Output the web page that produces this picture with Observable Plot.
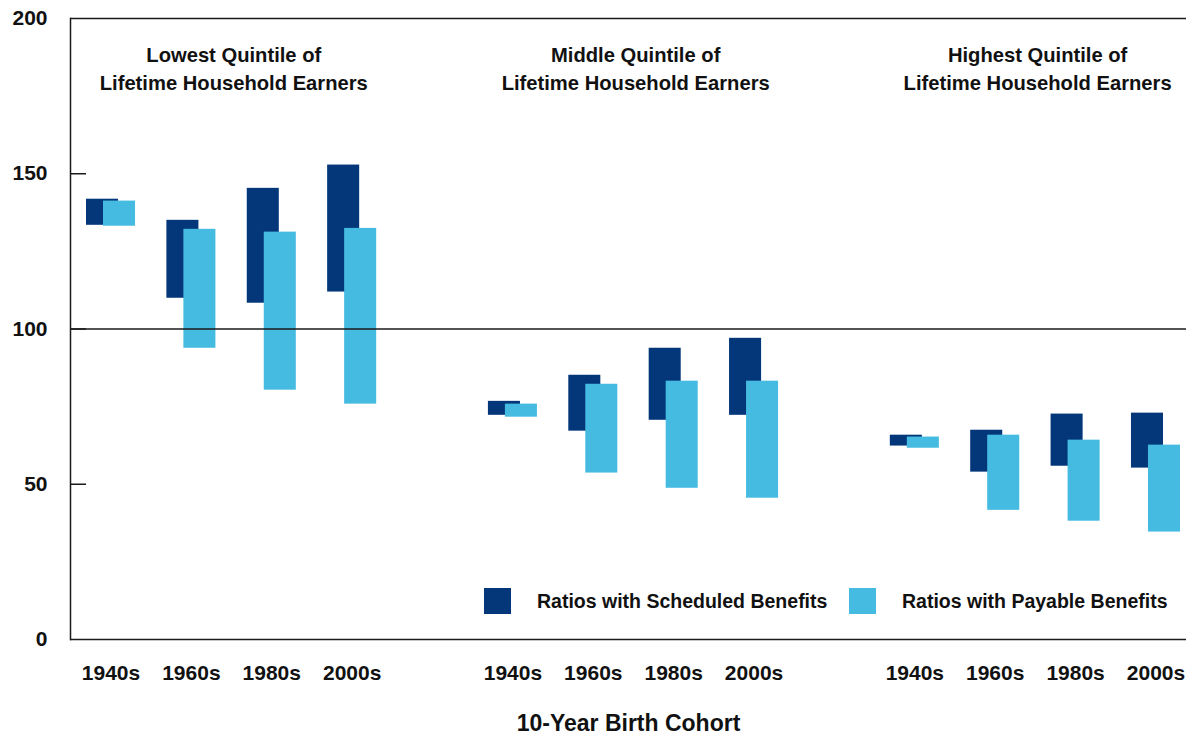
<!DOCTYPE html>
<html>
<head>
<meta charset="utf-8">
<script src="https://cdn.jsdelivr.net/npm/d3@7"></script>
<script src="https://cdn.jsdelivr.net/npm/@observablehq/plot@0.6"></script>
<style>
  html, body { margin: 0; padding: 0; background: #fff; }
  #wrap { position: relative; width: 1186px; height: 737px; font-family: "Liberation Sans", Arial, sans-serif; font-weight: bold; color: #111; }
  .leg { position: absolute; display: flex; align-items: center; font-size: 19.5px; white-space: nowrap; }
  .sw { width: 27px; height: 26px; display: inline-block; }
</style>
</head>
<body>
<div id="wrap"></div>
<script>
// ---- data ----
const quintiles = ["Lowest", "Middle", "Highest"];
const quintileTitles = ["Lowest Quintile of\nLifetime Household Earners", "Middle Quintile of\nLifetime Household Earners", "Highest Quintile of\nLifetime Household Earners"];
const cohorts = ["1940s", "1960s", "1980s", "2000s"];
// [high, low] per cohort
const scheduledLowest  = [[141.8, 133.4], [135.0, 109.9], [145.3, 108.3], [152.8, 111.9]];
const payableLowest    = [[141.2, 133.1], [132.1, 93.8], [131.2, 80.3], [132.4, 75.8]];
const scheduledMiddle  = [[76.7, 72.2], [85.1, 67.1], [93.8, 70.6], [97.0, 72.2]];
const payableMiddle    = [[75.8, 71.6], [82.2, 53.6], [83.2, 48.7], [83.2, 45.5]];
const scheduledHighest = [[65.8, 62.3], [67.4, 53.9], [72.6, 55.8], [72.9, 55.2]];
const payableHighest   = [[65.2, 61.6], [65.8, 41.6], [64.2, 38.1], [62.6, 34.6]];
const yTicks = [0, 50, 100, 150, 200];
const seriesNames = ["Ratios with Scheduled Benefits", "Ratios with Payable Benefits"];
const colors = ["#03377a", "#45bbe1"];

// ---- build ----
const scheduled = [scheduledLowest, scheduledMiddle, scheduledHighest];
const payable = [payableLowest, payableMiddle, payableHighest];
const keys = [];
quintiles.forEach((q, qi) => {
  cohorts.forEach(c => keys.push(q + "|" + c));
  if (qi < quintiles.length - 1) keys.push("gap" + qi);
});
const realKeys = keys.filter(k => k.includes("|"));
const rows = (arr, series) => quintiles.flatMap((q, qi) => cohorts.map((c, ci) => ({
  key: q + "|" + c, high: arr[qi][ci][0], low: arr[qi][ci][1], series
})));
const schedRows = rows(scheduled, seriesNames[0]);
const payRows = rows(payable, seriesNames[1]);
const titles = quintiles.map((q, i) => ({key: q + "|1980s", text: quintileTitles[i]}));

const font = '"Liberation Sans", Arial, sans-serif';
const chart = Plot.plot({
  width: 1186,
  height: 737,
  marginLeft: 70,
  marginRight: 0,
  marginTop: 18,
  marginBottom: 98,
  style: {fontFamily: font, fontSize: "21px", fontWeight: "bold", color: "#111", background: "#fff"},
  x: {type: "band", domain: keys, range: [86, 1180], paddingInner: 0.39, paddingOuter: 0, round: false},
  y: {domain: [0, 200]},
  marks: [
    Plot.barY(schedRows, {x: "key", y1: "low", y2: "high", fill: colors[0], insetLeft: 0, insetRight: 17}),
    Plot.barY(payRows, {x: "key", y1: "low", y2: "high", fill: colors[1], insetLeft: 17, insetRight: 0}),
    Plot.ruleY([0, 100, 200], {stroke: "#1a1a1a", strokeWidth: 1.5}),
    Plot.axisY({ticks: yTicks, tickSize: 0, tickPadding: 23, label: null, fontSize: 21}),
    Plot.tickY(yTicks.filter(t => t > 0 && t < 200), {y: d => d, stroke: "#1a1a1a", strokeWidth: 1.5, insetRight: 1116 - 16}),
    Plot.axisX({ticks: realKeys, tickSize: 0, tickPadding: 26, tickFormat: d => d.split("|")[1], fontSize: 21,
      label: null}),
    Plot.axisX({ticks: [], tickSize: 0, label: "10-Year Birth Cohort", labelAnchor: "center", labelArrow: "none",
      labelOffset: 91, fontSize: 23}),
    Plot.text(titles, {x: "key", text: "text", frameAnchor: "top", dx: -38, dy: 24, lineAnchor: "top",
      lineHeight: 1.38, fontSize: 20.2, fontWeight: "bold", fill: "#111"}),
    Plot.frame({anchor: "left", stroke: "#1a1a1a", strokeWidth: 1.5})
  ]
});

const wrap = document.getElementById("wrap");
wrap.appendChild(chart);
const legendPos = [[484, 588], [849, 588]];
seriesNames.forEach((name, i) => {
  const d = document.createElement("div");
  d.className = "leg";
  d.style.left = legendPos[i][0] + "px";
  d.style.top = legendPos[i][1] + "px";
  d.innerHTML = `<span class="sw" style="background:${colors[i]}"></span><span style="margin-left:26px">${name}</span>`;
  wrap.appendChild(d);
});
</script>
</body>
</html>
